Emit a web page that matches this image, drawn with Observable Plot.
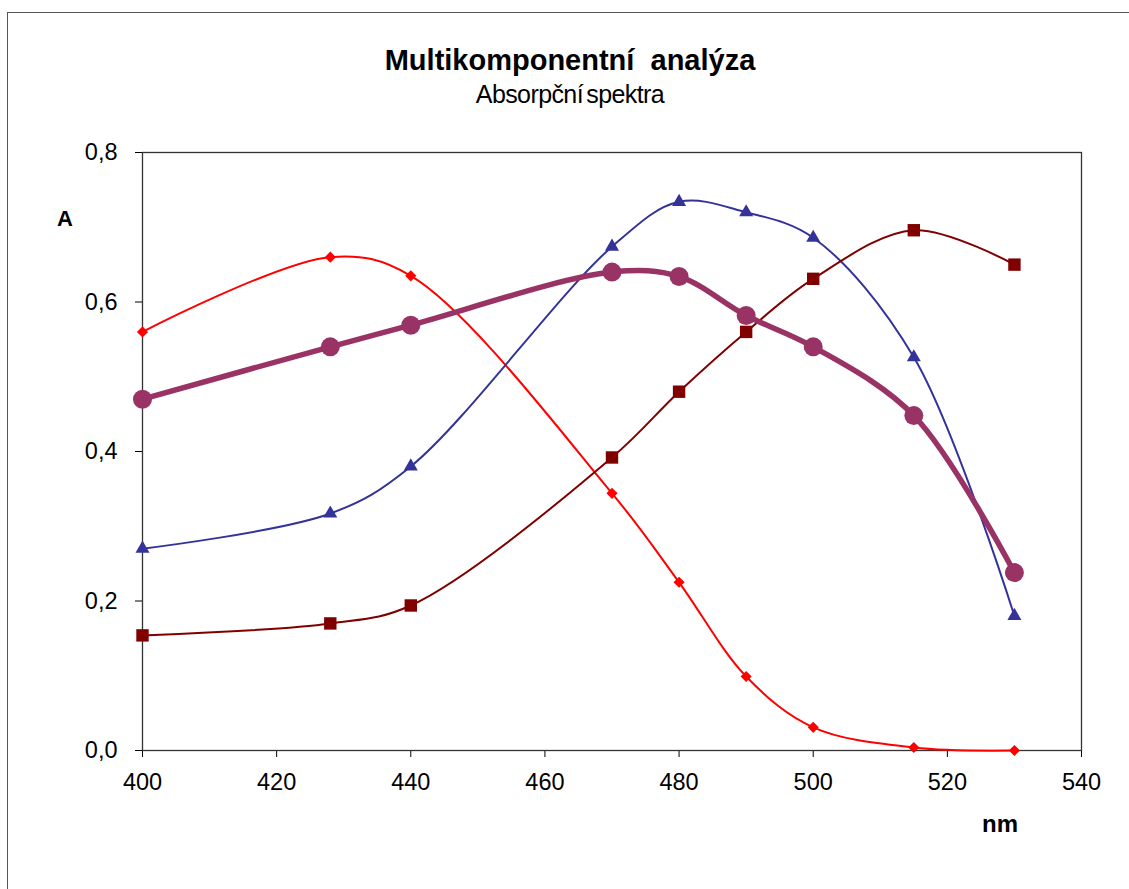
<!DOCTYPE html>
<html>
<head>
<meta charset="utf-8">
<script src="https://cdn.jsdelivr.net/npm/d3@7"></script>
<script src="https://cdn.jsdelivr.net/npm/@observablehq/plot@0.6"></script>
<style>
  html, body { margin: 0; padding: 0; background: #fff; }
  #wrap { position: relative; width: 1129px; height: 889px; overflow: hidden; font-family: "Liberation Sans", Arial, sans-serif; }
  #border { position: absolute; left: 7px; top: 12px; width: 1140px; height: 900px; border: 1px solid #555; box-sizing: border-box; }
  #title { position: absolute; left: 0; width: 1140px; top: 44px; text-align: center; font-weight: bold; font-size: 29px; color: #000; white-space: pre; }
  #subtitle { position: absolute; left: 0; width: 1140px; top: 80px; text-align: center; font-size: 25px; color: #000; letter-spacing: -0.6px; word-spacing: -3px; }
  #ylab { position: absolute; left: 57px; top: 206px; font-weight: bold; font-size: 22px; }
  #xlab { position: absolute; left: 982px; top: 810px; font-weight: bold; font-size: 24px; }
  #chart { position: absolute; left: 0; top: 0; }
</style>
</head>
<body>
<div id="wrap">
  <div id="chart"></div>
  <div id="border"></div>
  <div id="title">Multikomponentní  analýza</div>
  <div id="subtitle">Absorpční spektra</div>
  <div id="ylab">A</div>
  <div id="xlab">nm</div>
</div>
<script>
const wavelengths = [400, 428, 440, 470, 480, 490, 500, 515, 530];
const redDiamond  = [0.560, 0.660, 0.635, 0.344, 0.225, 0.099, 0.031, 0.004, 0.000];
const blueTriangle = [0.270, 0.317, 0.380, 0.674, 0.734, 0.720, 0.686, 0.526, 0.180];
const darkSquare  = [0.154, 0.170, 0.194, 0.392, 0.480, 0.560, 0.631, 0.696, 0.650];
const purpleCircle = [0.470, 0.540, 0.569, 0.640, 0.634, 0.582, 0.540, 0.448, 0.238];
const xTicks = [400, 420, 440, 460, 480, 500, 520, 540];
const yTicks = [0, 0.2, 0.4, 0.6, 0.8];

const toRows = (vals) => wavelengths.map((x, i) => ({x, y: vals[i]}));
const red = toRows(redDiamond), blue = toRows(blueTriangle), dark = toRows(darkSquare), purple = toRows(purpleCircle);

const curve = "catmull-rom";
const fmt = d => d3.format(".1f")(d).replace(".", ",");

const chart = Plot.plot({
  width: 1129,
  height: 889,
  marginLeft: 142,
  marginRight: 48,
  marginTop: 152,
  marginBottom: 139,
  style: {fontFamily: "Liberation Sans, Arial, sans-serif", fontSize: "23.5px", color: "#000", background: "transparent"},
  x: {domain: [400, 540], ticks: xTicks, tickSize: 7, tickPadding: 16, label: null},
  y: {domain: [0, 0.8], ticks: yTicks, tickSize: 7, tickPadding: 18, tickFormat: fmt, label: null},
  marks: [
    Plot.frame({stroke: "#333", strokeWidth: 1.3}),
    Plot.line(red, {x: "x", y: "y", stroke: "#FF0000", strokeWidth: 2, curve}),
    Plot.dot(red, {x: "x", y: "y", symbol: "diamond2", r: 5, fill: "#FF0000", stroke: "none"}),
    Plot.line(blue, {x: "x", y: "y", stroke: "#333399", strokeWidth: 2, curve}),
    Plot.dot(blue, {x: "x", y: "y", symbol: "triangle", r: 5.2, fill: "#333399", stroke: "none"}),
    Plot.line(dark, {x: "x", y: "y", stroke: "#800000", strokeWidth: 2, curve}),
    Plot.dot(dark, {x: "x", y: "y", symbol: "square", r: 7, fill: "#800000", stroke: "none"}),
    Plot.line(purple, {x: "x", y: "y", stroke: "#993366", strokeWidth: 5.5, curve}),
    Plot.dot(purple, {x: "x", y: "y", symbol: "circle", r: 9.5, fill: "#993366", stroke: "none"})
  ]
});
document.getElementById("chart").appendChild(chart);
</script>
</body>
</html>
